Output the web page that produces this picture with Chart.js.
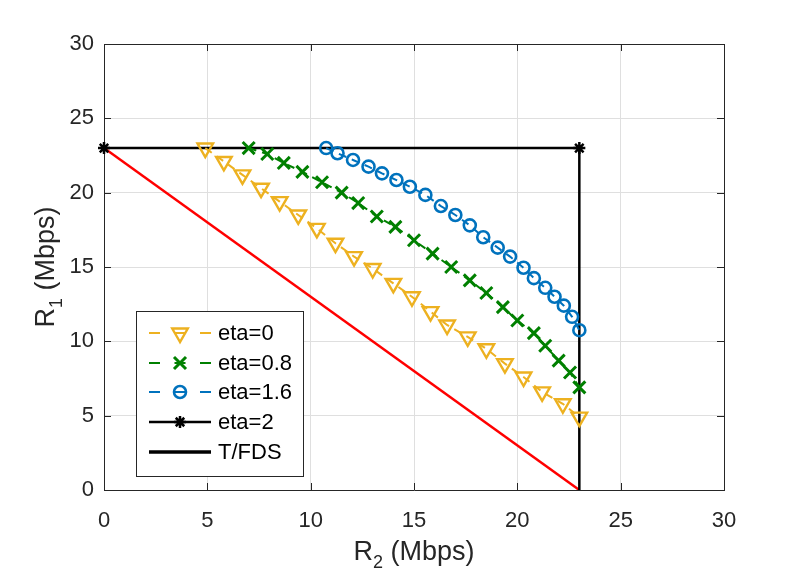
<!DOCTYPE html>
<html>
<head>
<meta charset="utf-8">
<script src="https://cdn.jsdelivr.net/npm/chart.js@4.4.1/dist/chart.umd.min.js"></script>
<style>
    html, body { margin: 0; padding: 0; background: #ffffff; }
    #wrap { width: 800px; height: 582px; }
</style>
</head>
<body>
<div id="wrap"><canvas id="rateChart" width="800" height="582"></canvas></div>
<script>
// Data (R2 on x, R1 on y, Mbps)
const tickValues = [0, 5, 10, 15, 20, 25, 30];

const eta0R2 = [4.9, 5.8, 6.7, 7.6, 8.5, 9.4, 10.3, 11.2, 12.1, 13.0, 14.0, 14.9, 15.8, 16.6, 17.6, 18.5, 19.4, 20.3, 21.2, 22.2, 23.0];
const eta0R1 = [23.0, 22.1, 21.2, 20.3, 19.4, 18.5, 17.6, 16.6, 15.7, 14.9, 13.9, 13.0, 12.0, 11.1, 10.3, 9.5, 8.5, 7.6, 6.6, 5.8, 4.9];

const eta08R2 = [7.0, 7.9, 8.7, 9.6, 10.55, 11.5, 12.3, 13.2, 14.1, 15.0, 15.9, 16.8, 17.7, 18.5, 19.3, 20.0, 20.8, 21.35, 22.0, 22.55, 23.0];
const eta08R1 = [23.0, 22.6, 22.0, 21.4, 20.7, 20.0, 19.3, 18.4, 17.7, 16.8, 15.9, 15.0, 14.1, 13.25, 12.3, 11.4, 10.55, 9.7, 8.7, 7.9, 6.9];

const eta16R2 = [10.75, 11.3, 12.05, 12.8, 13.45, 14.15, 14.8, 15.55, 16.3, 17.0, 17.7, 18.35, 19.05, 19.65, 20.3, 20.8, 21.35, 21.8, 22.25, 22.65, 23.0];
const eta16R1 = [23.0, 22.65, 22.2, 21.75, 21.3, 20.85, 20.4, 19.85, 19.1, 18.5, 17.8, 17.0, 16.3, 15.7, 14.95, 14.25, 13.6, 13.0, 12.4, 11.65, 10.75];

const eta2R2 = [0, 23];
const eta2R1 = [23, 23];

const tfdsR2 = [23, 23];
const tfdsR1 = [23, 0];

const lineR2 = [0, 23];
const lineR1 = [23, 0];

const AXIS_COLOR = '#262626';
const FONT = '"Liberation Sans", Arial, Helvetica, sans-serif';

function toPoints(xs, ys) {
    return xs.map((x, i) => ({ x: x, y: ys[i] }));
}

// inward ticks on all four sides plus the top/right box edges
const boxTicksPlugin = {
    id: 'boxTicks',
    beforeDatasetsDraw(chart) {
        const { ctx, chartArea: a, scales } = chart;
        const len = 7;
        ctx.save();
        ctx.strokeStyle = AXIS_COLOR;
        ctx.lineWidth = 1;
        ctx.beginPath();
        tickValues.forEach(v => {
            const px = Math.round(scales.x.getPixelForValue(v)) + 0.5;
            ctx.moveTo(px, a.bottom); ctx.lineTo(px, a.bottom - len);
            ctx.moveTo(px, a.top); ctx.lineTo(px, a.top + len);
            const py = Math.round(scales.y.getPixelForValue(v)) + 0.5;
            ctx.moveTo(a.left, py); ctx.lineTo(a.left + len, py);
            ctx.moveTo(a.right, py); ctx.lineTo(a.right - len, py);
        });
        ctx.moveTo(a.left, a.top + 0.5); ctx.lineTo(a.right, a.top + 0.5);
        ctx.moveTo(a.right + 0.5, a.top); ctx.lineTo(a.right + 0.5, a.bottom);
        ctx.stroke();
        ctx.restore();
    }
};

// axis titles with subscripts
function drawSubTitle(ctx, main, sub, rest, size) {
    ctx.font = size + 'px ' + FONT;
    const w1 = ctx.measureText(main).width;
    const w3 = ctx.measureText(rest).width;
    ctx.font = Math.round(size * 0.68) + 'px ' + FONT;
    const w2 = ctx.measureText(sub).width;
    let x = -(w1 + w2 + w3) / 2;
    ctx.font = size + 'px ' + FONT;
    ctx.fillText(main, x, 0);
    x += w1;
    ctx.font = Math.round(size * 0.68) + 'px ' + FONT;
    ctx.fillText(sub, x, size * 0.3);
    x += w2;
    ctx.font = size + 'px ' + FONT;
    ctx.fillText(rest, x, 0);
}

const axisTitlePlugin = {
    id: 'axisTitles',
    afterDraw(chart) {
        const { ctx, chartArea: a } = chart;
        ctx.save();
        ctx.fillStyle = AXIS_COLOR;
        ctx.textBaseline = 'alphabetic';
        ctx.textAlign = 'left';
        ctx.save();
        ctx.translate((a.left + a.right) / 2, 560);
        drawSubTitle(ctx, 'R', '2', ' (Mbps)', 27);
        ctx.restore();
        ctx.save();
        ctx.translate(54, (a.top + a.bottom) / 2);
        ctx.rotate(-Math.PI / 2);
        drawSubTitle(ctx, 'R', '1', ' (Mbps)', 27);
        ctx.restore();
        ctx.restore();
    }
};

// MATLAB-like legend box
const boxLegendPlugin = {
    id: 'boxLegend',
    afterDatasetsDraw(chart) {
        const ctx = chart.ctx;
        const bx = 136.5, by = 311.5, bw = 167, bh = 165;
        const rows = [333, 363, 392, 422, 452];
        ctx.save();
        ctx.fillStyle = '#ffffff';
        ctx.fillRect(bx, by, bw, bh);
        ctx.strokeStyle = AXIS_COLOR;
        ctx.lineWidth = 1;
        ctx.strokeRect(bx, by, bw, bh);

        const items = chart.data.datasets.filter(ds => ds.label);
        items.forEach((ds, i) => {
            const y = rows[i];
            ctx.strokeStyle = ds.borderColor;
            ctx.lineWidth = ds.legendLineWidth || ds.borderWidth;
            ctx.setLineDash(ds.borderDash && ds.borderDash.length ? [11, 14.5] : []);
            ctx.beginPath();
            ctx.moveTo(149, y);
            ctx.lineTo(211, y);
            ctx.stroke();
            ctx.setLineDash([]);
            if (ds.pointRadius > 0) {
                ctx.strokeStyle = ds.pointBorderColor;
                ctx.fillStyle = 'rgba(0,0,0,0)';
                ctx.lineWidth = ds.pointBorderWidth;
                Chart.helpers.drawPoint(ctx, {
                    pointStyle: ds.pointStyle,
                    rotation: ds.pointRotation || 0,
                    radius: ds.pointRadius,
                    borderWidth: ds.pointBorderWidth
                }, 180, y);
            }
            ctx.fillStyle = '#000000';
            ctx.font = '22px ' + FONT;
            ctx.textAlign = 'left';
            ctx.textBaseline = 'middle';
            ctx.fillText(ds.label, 218, y + 1);
        });
        ctx.restore();
    }
};

function init() {
    const ctx = document.getElementById('rateChart').getContext('2d');

    new Chart(ctx, {
        type: 'scatter',
        data: {
            datasets: [
                {
                    label: 'eta=0',
                    data: toPoints(eta0R2, eta0R1),
                    showLine: true,
                    borderColor: '#EDB120',
                    borderWidth: 2,
                    borderDash: [8, 6],
                    pointStyle: 'triangle',
                    pointRotation: 180,
                    pointRadius: 9,
                    pointBorderWidth: 2.4,
                    pointBorderColor: '#EDB120',
                    pointBackgroundColor: 'rgba(0,0,0,0)'
                },
                {
                    label: 'eta=0.8',
                    data: toPoints(eta08R2, eta08R1),
                    showLine: true,
                    borderColor: '#008000',
                    borderWidth: 2,
                    borderDash: [8, 6],
                    pointStyle: 'crossRot',
                    pointRadius: 8.5,
                    pointBorderWidth: 3,
                    pointBorderColor: '#008000',
                    pointBackgroundColor: 'rgba(0,0,0,0)'
                },
                {
                    label: 'eta=1.6',
                    data: toPoints(eta16R2, eta16R1),
                    showLine: true,
                    borderColor: '#0072BD',
                    borderWidth: 2,
                    borderDash: [8, 6],
                    pointStyle: 'circle',
                    pointRadius: 6,
                    pointBorderWidth: 2.6,
                    pointBorderColor: '#0072BD',
                    pointBackgroundColor: 'rgba(0,0,0,0)'
                },
                {
                    label: 'eta=2',
                    data: toPoints(eta2R2, eta2R1),
                    showLine: true,
                    clip: false,
                    borderColor: '#000000',
                    borderWidth: 2.5,
                    pointStyle: 'star',
                    pointRadius: 6,
                    pointBorderWidth: 2.5,
                    pointBorderColor: '#000000',
                    pointBackgroundColor: 'rgba(0,0,0,0)'
                },
                {
                    label: 'T/FDS',
                    data: toPoints(tfdsR2, tfdsR1),
                    showLine: true,
                    borderColor: '#000000',
                    borderWidth: 2.5,
                    legendLineWidth: 3.5,
                    pointRadius: 0
                },
                {
                    label: '',
                    data: toPoints(lineR2, lineR1),
                    showLine: true,
                    borderColor: '#FF0000',
                    borderWidth: 2.5,
                    pointRadius: 0
                }
            ]
        },
        options: {
            responsive: false,
            devicePixelRatio: 1,
            animation: false,
            events: [],
            layout: { padding: { top: 44, right: 76, left: 0, bottom: 0 } },
            scales: {
                x: {
                    type: 'linear',
                    min: 0,
                    max: 30,
                    afterFit: s => { s.height = 92; },
                    afterBuildTicks: s => { s.ticks = tickValues.map(v => ({ value: v })); },
                    grid: { color: '#dfdfdf', drawTicks: false },
                    border: { color: AXIS_COLOR, width: 1 },
                    ticks: { color: AXIS_COLOR, padding: 18, maxRotation: 0, font: { family: FONT, size: 22 } }
                },
                y: {
                    type: 'linear',
                    min: 0,
                    max: 30,
                    afterFit: s => { s.width = 104; },
                    afterBuildTicks: s => { s.ticks = tickValues.map(v => ({ value: v })); },
                    grid: { color: '#dfdfdf', drawTicks: false },
                    border: { color: AXIS_COLOR, width: 1 },
                    ticks: { color: AXIS_COLOR, padding: 10, font: { family: FONT, size: 22 } }
                }
            },
            plugins: {
                legend: { display: false },
                tooltip: { enabled: false }
            }
        },
        plugins: [boxTicksPlugin, boxLegendPlugin, axisTitlePlugin]
    });
}

document.addEventListener('DOMContentLoaded', init);
</script>
</body>
</html>
